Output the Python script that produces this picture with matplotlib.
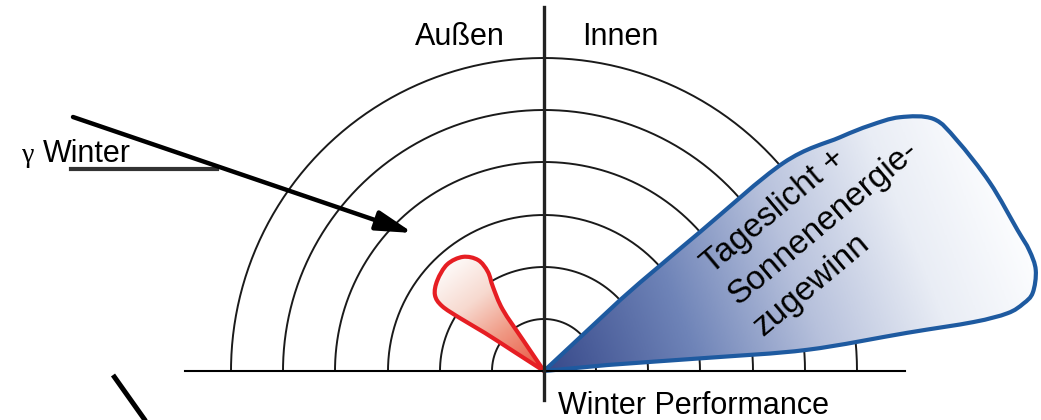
import numpy as np
import matplotlib
matplotlib.use("Agg")
import matplotlib.pyplot as plt
from matplotlib.path import Path
from matplotlib.patches import PathPatch
from matplotlib.colors import LinearSegmentedColormap

plt.rcParams['font.family'] = ['Liberation Sans', 'DejaVu Sans']

# --- diagram values (pixel units, centre of the polar diagram) ---
centre = (544, 371)
ring_radii = [52, 104, 156, 209, 261, 313]

# winter lobe: daylight + solar gain (inside), polar outline
blue_ang = [5.4, 4.6, 4.6, 6.0, 6.5, 7.1, 8.0, 9.1, 11.6, 14.0, 16.6, 22.9,
            29.2, 32.9, 35.5, 37.0, 38.3, 41.0, 41.7, 43.0]
blue_rad = [63, 164, 264, 365, 432, 467, 484, 495, 502, 500, 494, 484,
            473, 464, 437, 408, 377, 317, 209, 104]

# small lobe on the outside
red_ang = [124.1, 123.9, 121.3, 119.5, 120.7, 125.4, 132.2, 139.6, 145.1,
           147.5, 147.8, 147.2, 147.2]
red_rad = [37, 74, 98, 114, 129, 140, 144, 140, 133, 121, 99, 70, 37]

label_out = "Außen"
label_in = "Innen"
label_bottom = "Winter Performance"
lobe_lines = ["Tageslicht +", "Sonnenenergie-", "zugewinn"]


def lobe_path(ang, rad):
    a = np.radians(ang)
    r = np.asarray(rad, float)
    pts = np.column_stack([centre[0] + r * np.cos(a), centre[1] - r * np.sin(a)])
    tip = np.array(centre, float)
    allp = np.vstack([tip, pts, tip])
    verts = [tip, pts[0]]
    codes = [Path.MOVETO, Path.LINETO]
    # smooth curve through the outline points, sharp at the tip
    for i in range(1, len(allp) - 2):
        p0, p1, p2, p3 = allp[i - 1], allp[i], allp[i + 1], allp[i + 2]
        verts += [p1 + (p2 - p0) / 6, p2 - (p3 - p1) / 6, p2]
        codes += [Path.CURVE4] * 3
    verts += [tip, tip]
    codes += [Path.LINETO, Path.CLOSEPOLY]
    return Path(np.array(verts), codes), pts


def gradient_lobe(ax, ang, rad, axis_deg, length, cmap, edge, z):
    path, pts = lobe_path(ang, rad)
    x = np.append(pts[:, 0], centre[0])
    y = np.append(pts[:, 1], centre[1])
    x0, x1, y0, y1 = x.min() - 8, x.max() + 8, y.min() - 8, y.max() + 8
    gx, gy = np.meshgrid(np.linspace(x0, x1, 400), np.linspace(y0, y1, 300))
    d = np.radians(axis_deg)
    t = ((gx - centre[0]) * np.cos(d) - (gy - centre[1]) * np.sin(d)) / length
    t = np.clip(t, 0, 1)
    im = ax.imshow(cmap(t), extent=(x0, x1, y0, y1), origin='lower',
                   zorder=z, interpolation='bilinear', aspect='auto')
    patch = PathPatch(path, facecolor='none', edgecolor=edge, lw=3,
                      joinstyle='round', zorder=z + 0.1)
    ax.add_patch(patch)
    im.set_clip_path(patch)


fig = plt.figure(figsize=(10.41, 4.2), dpi=100, facecolor='white')
ax = fig.add_axes([0, 0, 1, 1])
ax.set_xlim(0, 1041)
ax.set_ylim(420, 0)
ax.axis('off')

# rings
th = np.linspace(0, np.pi, 300)
for r in ring_radii:
    ax.plot(centre[0] + r * np.cos(th), centre[1] - r * np.sin(th),
            color='#1a1a1a', lw=1.4, zorder=1)

# lobes
blue_cmap = LinearSegmentedColormap.from_list(
    'blue', [(0, '#37498a'), (0.3, '#6f84b8'), (0.55, '#b7c1dc'),
             (0.8, '#e9edf5'), (1, '#fbfcfe')])
red_cmap = LinearSegmentedColormap.from_list(
    'red', [(0, '#e9503c'), (0.4, '#f09a85'), (0.7, '#f7d9cf'),
            (1, '#fdf8f6')])
gradient_lobe(ax, blue_ang, blue_rad, 22, 490, blue_cmap, '#1e5aa0', 3)
gradient_lobe(ax, red_ang, red_rad, 128, 140, red_cmap, '#e61e23', 3)

# axes lines
ax.plot([185, 905], [centre[1], centre[1]], color='black', lw=1.5, zorder=5)
ax.plot([centre[0], centre[0]], [7, 400], color='#222222', lw=2.4, zorder=5)

# sun ray
ax.annotate('', xy=(413, 233), xytext=(73, 117),
            arrowprops=dict(arrowstyle='-|>,head_length=1.1,head_width=0.3',
                            lw=3.2, color='black', shrinkA=0, shrinkB=0,
                            mutation_scale=20), zorder=6)
ax.plot([71, 217], [169, 169], color='#333333', lw=3, zorder=5)
ax.plot([113, 152], [375, 430], color='black', lw=3.6, zorder=5,
        solid_capstyle='butt')

# texts
ax.text(22, 162, 'γ', fontsize=20, family=['Liberation Serif', 'DejaVu Serif'],
        ha='left', va='baseline')
ax.text(43, 162, 'Winter', fontsize=22, ha='left', va='baseline')
ax.text(505, 45, label_out, fontsize=22, ha='right', va='baseline')
ax.text(582, 45, label_in, fontsize=22, ha='left', va='baseline')
ax.text(558, 414, label_bottom, fontsize=22, ha='left', va='baseline')

ang = np.radians(40)
for k, line in enumerate(lobe_lines):
    px = 712 + k * 40 * np.sin(ang)
    py = 275 + k * 40 * np.cos(ang)
    ax.text(px, py, line, fontsize=24, rotation=40, rotation_mode='anchor',
            ha='left', va='baseline', zorder=7)

fig.savefig('out.png', dpi=100, facecolor='white')
